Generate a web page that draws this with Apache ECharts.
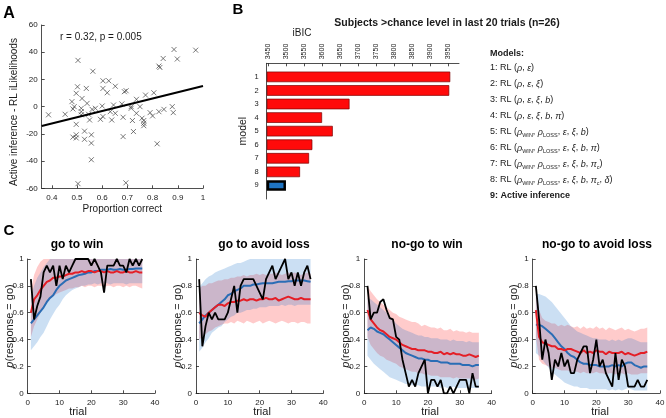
<!DOCTYPE html>
<html><head><meta charset="utf-8">
<script src="https://cdn.jsdelivr.net/npm/echarts@6/dist/echarts.min.js"></script>
<style>html,body{margin:0;padding:0;background:#fff}#c{width:666px;height:418px}</style>
</head><body><div id="c"></div>
<script>
const FONT = '"Liberation Sans", Arial, Helvetica, sans-serif';
const TXT = '#1a1a1a';

// ---------- Panel A ----------
const propCorrect = [0.387,0.453,0.504,0.563,0.502,0.497,0.537,0.48,0.484,0.489,0.52,0.54,0.517,0.517,0.517,0.546,0.56,0.573,0.55,0.497,0.484,0.497,0.497,0.53,0.53,0.557,0.557,0.557,0.504,0.603,0.626,0.603,0.62,0.652,0.6,0.593,0.603,0.632,0.645,0.652,0.638,0.678,0.683,0.688,0.695,0.683,0.715,0.715,0.72,0.724,0.694,0.736,0.736,0.75,0.758,0.765,0.765,0.765,0.772,0.805,0.79,0.8,0.825,0.845,0.818,0.825,0.829,0.842,0.885,0.898,0.971,0.878,0.882];
const likeDiff = [-6,-5.6,34,26,14.6,9.8,13.4,3.7,-1.7,0,6,2.4,-1.2,-3.7,-6,-5.6,-2,-1.2,-9.8,-13,-22.4,-20.7,-23,-18,-24,-20.7,-26.8,-39,-56.6,19,19,13.4,10.2,15,0.5,-9.3,-7.3,-3.7,1.2,-4.9,-9.8,2,-7.8,11,11.7,-22,0,-1.2,-10.2,-18.3,-56,5.4,-4.9,0,-8.5,-10.2,-12.2,-14,8.5,10.2,-4.4,-6.8,-3.7,-2,-27.3,29.8,28.8,35.4,42,35,41.5,0,-4.4];
const fitX = [0.36, 1.0];
const fitY = [-14.2, 15.2];
const aXTicks = [0.4,0.5,0.6,0.7,0.8,0.9,1];

// ---------- Panel B ----------
const models = ['1','2','3','4','5','6','7','8','9'];
const iBIC = [3955.6,3952.8,3675.4,3599,3628.8,3572,3562.8,3537.7,3498.6];
const bTicks = [3450,3500,3550,3600,3650,3700,3750,3800,3850,3900,3950];
const bMin = 3445;
const modelLabels = [
 '1: RL ({i|ρ}, {i|ε})',
 '2: RL ({i|ρ}, {i|ε}, {i|ξ})',
 '3: RL ({i|ρ}, {i|ε}, {i|ξ}, {i|b})',
 '4: RL ({i|ρ}, {i|ε}, {i|ξ}, {i|b}, {i|π})',
 '5: RL ({i|ρ}{s|WIN}, {i|ρ}{s|LOSS}, {i|ε}, {i|ξ}, {i|b})',
 '6: RL ({i|ρ}{s|WIN}, {i|ρ}{s|LOSS}, {i|ε}, {i|ξ}, {i|b}, {i|π})',
 '7: RL ({i|ρ}{s|WIN}, {i|ρ}{s|LOSS}, {i|ε}, {i|ξ}, {i|b}, {i|π}{s|c})',
 '8: RL ({i|ρ}{s|WIN}, {i|ρ}{s|LOSS}, {i|ε}, {i|ξ}, {i|b}, {i|π}{s|c}, {i|δ})',
 '{b|9: Active inference}'
];

// ---------- Panel C ----------
const trials = [1,2,3,4,5,6,7,8,9,10,11,12,13,14,15,16,17,18,19,20,21,22,23,24,25,26,27,28,29,30,31,32,33,34,35,36];
const condTitles = ['go to win','go to avoid loss','no-go to win','no-go to avoid loss'];

const obs_gw = [0.85,0.55,0.65,0.72,0.9,0.95,0.9,0.95,0.8,0.95,0.85,0.95,0.9,0.95,1,1,1,1,1,0.95,1,0.95,0.9,0.75,0.95,0.95,0.95,1,0.95,0.95,0.9,1,0.95,1,0.95,1];
const rl_gw = [0.6,0.7,0.73,0.77,0.8,0.83,0.84,0.86,0.86,0.87,0.87,0.88,0.89,0.89,0.9,0.9,0.91,0.9,0.91,0.91,0.9,0.91,0.91,0.9,0.91,0.9,0.9,0.91,0.9,0.9,0.91,0.9,0.9,0.91,0.9,0.9];
const ai_gw = [0.52,0.55,0.58,0.61,0.64,0.68,0.71,0.73,0.77,0.8,0.82,0.84,0.85,0.86,0.87,0.88,0.885,0.89,0.9,0.9,0.91,0.91,0.92,0.92,0.92,0.925,0.92,0.92,0.925,0.92,0.92,0.925,0.925,0.93,0.93,0.93];
const rlLo_gw = [0.42,0.5,0.55,0.6,0.64,0.67,0.7,0.72,0.74,0.75,0.76,0.77,0.78,0.78,0.79,0.79,0.8,0.79,0.8,0.8,0.79,0.8,0.8,0.79,0.8,0.8,0.79,0.8,0.8,0.79,0.8,0.79,0.8,0.8,0.79,0.78];
const rlHi_gw = [0.76,0.88,0.94,0.98,1,1,1,1,1,1,1,1,1,1,1,1,1,1,1,1,1,1,1,1,1,1,1,1,1,1,1,1,1,1,1,1];
const aiLo_gw = [0.32,0.35,0.38,0.42,0.45,0.5,0.55,0.59,0.63,0.66,0.7,0.73,0.75,0.77,0.78,0.79,0.8,0.8,0.81,0.81,0.82,0.81,0.82,0.82,0.82,0.81,0.82,0.82,0.82,0.82,0.81,0.82,0.82,0.82,0.82,0.82];
const aiHi_gw = [0.72,0.8,0.86,0.9,0.94,0.97,1,1,1,1,1,1,1,1,1,1,1,1,1,1,1,1,1,1,1,1,1,1,1,1,1,1,1,1,1,1];

const obs_gl = [0.85,0.35,0.5,0.6,0.55,0.6,0.55,0.55,0.55,0.6,0.7,0.8,0.6,0.8,0.85,0.85,0.85,0.85,0.8,0.75,0.7,0.85,0.9,0.95,0.85,0.9,0.95,1,0.85,0.9,0.8,0.9,0.8,0.9,0.95,0.85];
const rl_gl = [0.6,0.58,0.57,0.6,0.62,0.64,0.66,0.66,0.65,0.67,0.68,0.68,0.69,0.69,0.7,0.69,0.7,0.7,0.69,0.7,0.7,0.71,0.7,0.7,0.71,0.69,0.7,0.71,0.72,0.71,0.7,0.7,0.71,0.7,0.7,0.7];
const ai_gl = [0.52,0.55,0.58,0.6,0.62,0.64,0.66,0.68,0.7,0.73,0.74,0.76,0.77,0.78,0.8,0.8,0.8,0.81,0.81,0.815,0.82,0.82,0.82,0.82,0.825,0.83,0.83,0.83,0.835,0.835,0.84,0.84,0.84,0.84,0.835,0.83];
const rlLo_gl = [0.4,0.42,0.44,0.46,0.47,0.49,0.5,0.51,0.52,0.52,0.53,0.52,0.54,0.53,0.52,0.54,0.53,0.52,0.53,0.54,0.52,0.53,0.54,0.53,0.52,0.53,0.54,0.53,0.52,0.53,0.53,0.52,0.53,0.53,0.52,0.52];
const rlHi_gl = [0.78,0.8,0.8,0.82,0.82,0.83,0.84,0.84,0.85,0.85,0.86,0.86,0.87,0.87,0.88,0.87,0.88,0.88,0.89,0.88,0.89,0.88,0.89,0.89,0.9,0.89,0.88,0.89,0.9,0.89,0.9,0.89,0.88,0.89,0.9,0.89];
const aiLo_gl = [0.31,0.34,0.38,0.41,0.45,0.47,0.49,0.5,0.53,0.55,0.57,0.58,0.6,0.6,0.61,0.62,0.62,0.63,0.63,0.64,0.64,0.64,0.65,0.65,0.65,0.65,0.66,0.65,0.66,0.66,0.65,0.66,0.66,0.66,0.66,0.66];
const aiHi_gl = [0.79,0.82,0.85,0.87,0.88,0.9,0.91,0.92,0.93,0.94,0.95,0.96,0.97,0.97,0.98,0.99,1,1,1,1,1,1,1,1,1,1,1,1,1,1,1,1,1,1,1,1];

const obs_nw = [0.8,0.55,0.6,0.6,0.68,0.7,0.62,0.56,0.55,0.42,0.4,0.25,0.15,0.05,0.1,0.05,0.15,0.2,0.25,0,0.1,0.1,0.05,0.1,0,0,0.05,0,0.05,0.1,0.1,0.1,0,0.15,0.05,0.05];
const rl_nw = [0.62,0.55,0.52,0.49,0.47,0.46,0.44,0.42,0.41,0.4,0.38,0.36,0.35,0.34,0.33,0.33,0.32,0.32,0.32,0.31,0.31,0.3,0.3,0.31,0.29,0.3,0.29,0.3,0.29,0.29,0.28,0.28,0.29,0.28,0.27,0.28];
const ai_nw = [0.47,0.49,0.48,0.46,0.45,0.44,0.42,0.4,0.38,0.36,0.34,0.32,0.3,0.29,0.28,0.27,0.26,0.26,0.25,0.25,0.24,0.24,0.24,0.23,0.23,0.23,0.22,0.22,0.22,0.22,0.21,0.21,0.21,0.2,0.21,0.21];
const rlLo_nw = [0.42,0.36,0.33,0.3,0.28,0.27,0.25,0.24,0.23,0.22,0.2,0.19,0.18,0.17,0.16,0.16,0.15,0.15,0.14,0.14,0.13,0.13,0.13,0.12,0.12,0.12,0.12,0.11,0.12,0.11,0.11,0.11,0.11,0.11,0.1,0.11];
const rlHi_nw = [0.8,0.76,0.73,0.7,0.68,0.66,0.64,0.62,0.6,0.59,0.57,0.56,0.55,0.54,0.53,0.53,0.52,0.5,0.51,0.5,0.49,0.49,0.48,0.49,0.47,0.47,0.48,0.46,0.47,0.46,0.46,0.45,0.46,0.45,0.45,0.45];
const aiLo_nw = [0.28,0.25,0.22,0.2,0.18,0.16,0.14,0.12,0.11,0.1,0.09,0.08,0.07,0.07,0.06,0.06,0.06,0.05,0.05,0.05,0.05,0.05,0.05,0.04,0.05,0.04,0.04,0.05,0.04,0.04,0.04,0.04,0.04,0.04,0.04,0.04];
const aiHi_nw = [0.71,0.7,0.68,0.66,0.64,0.62,0.6,0.57,0.55,0.52,0.5,0.48,0.47,0.46,0.45,0.44,0.43,0.43,0.42,0.42,0.41,0.41,0.41,0.4,0.4,0.4,0.39,0.4,0.39,0.39,0.39,0.38,0.39,0.38,0.38,0.38];

const obs_nl = [0.8,0.55,0.25,0.4,0.3,0.1,0.25,0.2,0.3,0.2,0.25,0.15,0.15,0.25,0.3,0.35,0.35,0.15,0.25,0.4,0.2,0.25,0.15,0.1,0.05,0.3,0.1,0.25,0.2,0.05,0.05,0.05,0.1,0.05,0.05,0.1];
const rl_nl = [0.62,0.42,0.38,0.37,0.36,0.35,0.35,0.33,0.33,0.32,0.33,0.33,0.32,0.31,0.3,0.32,0.3,0.31,0.3,0.32,0.31,0.31,0.29,0.31,0.3,0.3,0.3,0.31,0.29,0.3,0.29,0.28,0.29,0.3,0.3,0.31];
const ai_nl = [0.51,0.51,0.5,0.48,0.46,0.44,0.41,0.38,0.35,0.33,0.3,0.28,0.27,0.25,0.23,0.22,0.22,0.21,0.21,0.21,0.2,0.2,0.2,0.2,0.21,0.2,0.21,0.2,0.22,0.23,0.23,0.21,0.2,0.19,0.2,0.2];
const rlLo_nl = [0.42,0.25,0.22,0.21,0.2,0.19,0.19,0.18,0.17,0.17,0.17,0.16,0.16,0.16,0.15,0.16,0.15,0.15,0.15,0.16,0.15,0.15,0.14,0.15,0.15,0.14,0.15,0.15,0.14,0.15,0.14,0.14,0.14,0.15,0.15,0.15];
const rlHi_nl = [0.8,0.62,0.56,0.54,0.53,0.52,0.52,0.5,0.51,0.5,0.51,0.5,0.49,0.5,0.48,0.5,0.48,0.49,0.48,0.5,0.48,0.49,0.47,0.49,0.48,0.47,0.48,0.49,0.47,0.48,0.47,0.46,0.47,0.48,0.48,0.49];
const aiLo_nl = [0.3,0.28,0.25,0.22,0.19,0.16,0.14,0.12,0.1,0.08,0.07,0.06,0.05,0.05,0.04,0.04,0.04,0.03,0.03,0.03,0.03,0.03,0.03,0.02,0.03,0.02,0.03,0.02,0.03,0.04,0.03,0.02,0.02,0.02,0.02,0.02];
const aiHi_nl = [0.74,0.74,0.73,0.72,0.7,0.68,0.65,0.62,0.59,0.56,0.53,0.5,0.48,0.46,0.45,0.44,0.43,0.42,0.41,0.41,0.4,0.4,0.4,0.39,0.4,0.39,0.4,0.39,0.4,0.41,0.41,0.4,0.39,0.38,0.38,0.38];

// ---------- build ----------
const conds = [
 {obs:obs_gw, rl:rl_gw, ai:ai_gw, rlLo:rlLo_gw, rlHi:rlHi_gw, aiLo:aiLo_gw, aiHi:aiHi_gw},
 {obs:obs_gl, rl:rl_gl, ai:ai_gl, rlLo:rlLo_gl, rlHi:rlHi_gl, aiLo:aiLo_gl, aiHi:aiHi_gl},
 {obs:obs_nw, rl:rl_nw, ai:ai_nw, rlLo:rlLo_nw, rlHi:rlHi_nw, aiLo:aiLo_nw, aiHi:aiHi_nw},
 {obs:obs_nl, rl:rl_nl, ai:ai_nl, rlLo:rlLo_nl, rlHi:rlHi_nl, aiLo:aiLo_nl, aiHi:aiHi_nl}
];
const cLeft = [27.7, 196, 364.3, 532.7];
const cTitleX = [77, 264, 427, 597];
const cTrialX = [78, 262, 430, 600];
const cYlabX = [10, 178, 346, 514];

const axLine = {show:true, onZero:false, lineStyle:{color:'#222', width:0.8}};
const axTick = {show:true, inside:true, length:3, lineStyle:{color:'#222', width:0.8}};
const axLab = (fs)=>({color:TXT, fontSize:fs, fontFamily:FONT});

const grids = [
 {left:41.7, top:25, width:161.3, height:163.3},
 {left:266.7, top:63.3, width:192.3, height:135.7}
];
cLeft.forEach(l=>grids.push({left:l, top:259, width:127.3, height:134.3}));
grids.forEach(g=>{g.containLabel=false; g.outerBoundsMode='none';});

const xAxes = [
 {gridIndex:0, type:'value', min:0.36, max:1, axisLine:axLine,
  axisTick:Object.assign({}, axTick, {customValues:aXTicks}),
  axisLabel:Object.assign(axLab(8), {customValues:aXTicks, margin:5}), splitLine:{show:false},
  name:'Proportion correct', nameLocation:'middle', nameGap:16,
  nameTextStyle:{fontSize:10, color:TXT, fontFamily:FONT}},
 {gridIndex:1, type:'value', position:'top', min:bMin, max:3980, axisLine:axLine,
  axisTick:Object.assign({}, axTick, {customValues:bTicks}),
  axisLabel:Object.assign(axLab(7), {customValues:bTicks, rotate:-90, margin:4, formatter:(v)=>String(v)}),
  splitLine:{show:false}}
];
const yAxes = [
 {gridIndex:0, type:'value', min:-60, max:60, interval:20, axisLine:axLine, axisTick:axTick,
  axisLabel:Object.assign(axLab(8), {margin:4}), splitLine:{show:false}},
 {gridIndex:1, type:'category', data:[''].concat(models,['']), boundaryGap:false, inverse:true,
  axisLine:axLine, axisTick:{show:false}, axisLabel:Object.assign(axLab(7.5), {margin:8}),
  splitLine:{show:false}, name:'model', nameLocation:'middle', nameGap:18,
  nameTextStyle:{fontSize:10.5, color:TXT, fontFamily:FONT}}
];
for (let k=0;k<4;k++){
 xAxes.push({gridIndex:2+k, type:'value', min:0, max:40, interval:10, axisLine:axLine, axisTick:axTick,
  axisLabel:Object.assign(axLab(8), {margin:5}), splitLine:{show:false}});
 yAxes.push({gridIndex:2+k, type:'value', min:0, max:1, interval:0.2, axisLine:axLine, axisTick:axTick,
  axisLabel:Object.assign(axLab(8), {margin:4}), splitLine:{show:false}});
}

const series = [];
// Panel A
series.push({type:'scatter', xAxisIndex:0, yAxisIndex:0,
 data: propCorrect.map((x,i)=>[x, likeDiff[i]]),
 symbol:'path://M0,0L10,10M10,0L0,10', symbolSize:5,
 itemStyle:{color:'rgba(0,0,0,0)', borderColor:'#444', borderWidth:0.9}, silent:true});
series.push({type:'line', xAxisIndex:0, yAxisIndex:0, data: fitX.map((x,i)=>[x, fitY[i]]),
 symbol:'none', lineStyle:{color:'#000', width:2}, silent:true});
// Panel B
const barData0 = [null].concat(iBIC.map(()=>bMin), [null]);
const barData1 = [null].concat(iBIC.map((v,i)=>({
  value: v - bMin,
  itemStyle: i===8 ? {color:'#1f74c2', borderColor:'#000', borderWidth:2.5}
                   : {color:'#ff0a0a', borderColor:'#7a0000', borderWidth:0.7}
})), [null]);
series.push({type:'bar', xAxisIndex:1, yAxisIndex:1, stack:'b', data:barData0, barWidth:'78%',
 itemStyle:{color:'rgba(0,0,0,0)'}, silent:true});
series.push({type:'bar', xAxisIndex:1, yAxisIndex:1, stack:'b', data:barData1, barWidth:'78%',
 clip:false, silent:true});
// Panel C
const pts = (arr)=>trials.map((t,i)=>[t, arr[i]]);
function band(k, lo, hi, color){
 return {type:'custom', xAxisIndex:2+k, yAxisIndex:2+k, silent:true,
  data:[[trials[0], lo[0]]],
  renderItem:(params, api)=>{
   const p = [];
   for (let i=0;i<trials.length;i++) p.push(api.coord([trials[i], hi[i]]));
   for (let i=trials.length-1;i>=0;i--) p.push(api.coord([trials[i], lo[i]]));
   return {type:'polygon', shape:{points:p}, style:{fill:color}};
  }};
}
conds.forEach((c,k)=>{
 const ax = {xAxisIndex:2+k, yAxisIndex:2+k, symbol:'none', silent:true};
 series.push(band(k, c.rlLo, c.rlHi, 'rgba(255,20,20,0.22)'));
 series.push(band(k, c.aiLo, c.aiHi, 'rgba(20,110,200,0.22)'));
 series.push(Object.assign({type:'line', data:pts(c.ai), lineStyle:{color:'#2a6db5', width:2}}, ax));
 series.push(Object.assign({type:'line', data:pts(c.rl), lineStyle:{color:'#e41e26', width:2}}, ax));
 series.push(Object.assign({type:'line', data:pts(c.obs), lineStyle:{color:'#000', width:1.8}}, ax));
});

// Text
const T = (text, x, y, o)=>Object.assign({type:'text', x, y, silent:true,
  style:Object.assign({text, fill:TXT, fontFamily:FONT, fontSize:10, align:'center', verticalAlign:'middle',
   textAlign:'center', textVerticalAlign:'middle'}, (o&&o.style)||{})}, o&&o.rotation!=null?{rotation:o.rotation}:{});
const graphics = [
 T('A', 9, 14, {style:{fontSize:16, fontWeight:'bold', fill:'#000'}}),
 T('B', 238, 10, {style:{fontSize:15, fontWeight:'bold', fill:'#000'}}),
 T('C', 9, 231, {style:{fontSize:15, fontWeight:'bold', fill:'#000'}}),
 T('r = 0.32, p = 0.005', 60, 37, {style:{align:'left', textAlign:'left', fontSize:10}}),
 T('Active inference - RL iLikelihoods', 14, 112, {rotation:Math.PI/2, style:{fontSize:10}}),
 T('Subjects >chance level in last 20 trials (n=26)', 447, 23, {style:{fontSize:10.5, fontWeight:'bold'}}),
 T('iBIC', 302, 33, {style:{fontSize:10}}),
 T('Models:', 490, 54, {style:{align:'left', textAlign:'left', fontSize:9, fontWeight:'bold'}})
];
const rich = {
 i:{fontStyle:'italic', fontSize:9, fontFamily:FONT, lineHeight:12, fill:TXT},
 s:{fontSize:5.5, fontFamily:FONT, lineHeight:6, verticalAlign:'bottom', fill:TXT},
 b:{fontWeight:'bold', fontSize:9, fontFamily:FONT, lineHeight:12, fill:TXT}
};
modelLabels.forEach((s,i)=>{
 graphics.push({type:'text', x:490, y:68+16*i, silent:true,
  style:{text:s, rich, fill:TXT, fontFamily:FONT, fontSize:9, lineHeight:12, align:'left', verticalAlign:'middle',
   textAlign:'left', textVerticalAlign:'middle'}});
});
for (let k=0;k<4;k++){
 graphics.push(T(condTitles[k], cTitleX[k], 245, {style:{fontSize:12, fontWeight:'bold', fill:'#000'}}));
 graphics.push(T('trial', cTrialX[k], 412, {style:{fontSize:11}}));
 graphics.push({type:'text', x:cYlabX[k], y:326, rotation:Math.PI/2, silent:true,
  style:{text:'{i|p}(response = go)', rich:{i:{fontStyle:'italic', fontSize:11, fontFamily:FONT, fill:TXT}},
   fill:TXT, fontFamily:FONT, fontSize:11, align:'center', verticalAlign:'middle', textAlign:'center', textVerticalAlign:'middle'}});
}

const chart = echarts.init(document.getElementById('c'), null, {renderer:'canvas'});
chart.setOption({
 animation:false, backgroundColor:'#fff',
 textStyle:{fontFamily:FONT},
 grid:grids, xAxis:xAxes, yAxis:yAxes, series, graphic:graphics
});
</script></body></html>
